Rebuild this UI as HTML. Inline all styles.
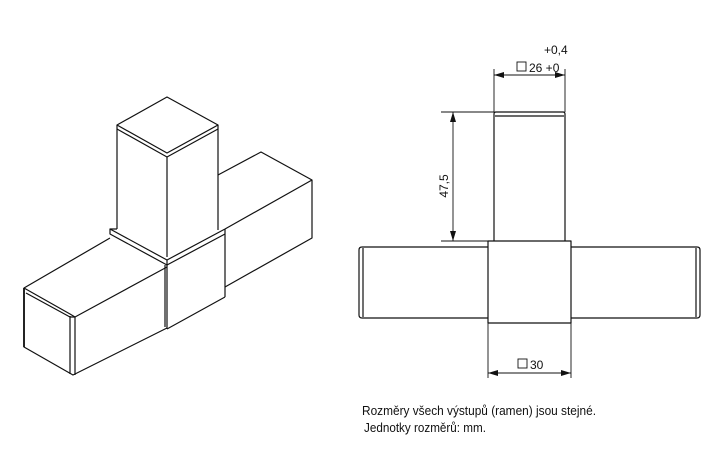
<!DOCTYPE html>
<html><head><meta charset="utf-8"><style>
html,body{margin:0;padding:0;background:#fff}
svg{display:block}
text{font-family:"Liberation Sans Narrow","Liberation Sans",sans-serif;fill:#111}
</style></head><body>
<svg width="724" height="467" viewBox="0 0 724 467" xmlns="http://www.w3.org/2000/svg">
<defs>
<marker id="a" viewBox="0 0 10 6" refX="10" refY="3" markerWidth="10" markerHeight="6" orient="auto-start-reverse" markerUnits="userSpaceOnUse"><path d="M0,0L10,3L0,6z" fill="#111"/></marker>
</defs>
<g fill="none" stroke="#111" stroke-width="1.2" stroke-linejoin="round">
<polyline points="218,175 261,152 312,180 312,238 225,287"/>
<line x1="312" y1="180" x2="225" y2="229"/>
<polygon points="117,125 167,97 218,125 167,153"/>
<polyline points="117,129 167,157 218,129"/>
<line x1="117" y1="125" x2="117" y2="229"/>
<line x1="218" y1="125" x2="218" y2="230"/>
<line x1="167" y1="157" x2="167" y2="257"/>
<polyline points="117,229 110,229 110,234 167,265 225,234"/>
<line x1="110" y1="229" x2="167" y2="260"/>
<line x1="167" y1="260" x2="225" y2="229"/>
<line x1="225" y1="229" x2="225" y2="297"/>
<line x1="167" y1="260" x2="167" y2="329"/>
<line x1="165" y1="265" x2="165" y2="327"/>
<polyline points="167,329 225,297"/>
<polyline points="110,238 24,288 24,347 73,375 167,328"/>
<polyline points="24,288 70,314 75,317 167,267"/>
<polyline points="26,293 70,317 75,317"/>
<line x1="70" y1="316" x2="70" y2="374"/>
<line x1="75" y1="317" x2="75" y2="375"/>
<line x1="24" y1="347" x2="24" y2="288" stroke-width="1.8"/>

<path d="M494,241 V114 Q494,112 496,112 H563 Q565,112 565,114 V241"/>
<line x1="495" y1="116" x2="564" y2="116"/>
<rect x="488" y="241" width="83" height="82"/>
<path d="M488,247 H362 Q359,247 359,250 V315 Q359,318 362,318 H488"/>
<line x1="363" y1="248" x2="363" y2="317"/>
<path d="M571,247 H697 Q700,247 700,250 V315 Q700,318 697,318 H571"/>
<line x1="696" y1="248" x2="696" y2="317"/>
</g>
<g stroke="#111" stroke-width="0.9" fill="none">
<line x1="494" y1="69" x2="494" y2="112"/>
<line x1="565" y1="69" x2="565" y2="112"/>
<line x1="494" y1="75" x2="565" y2="75" marker-start="url(#a)" marker-end="url(#a)"/>
<line x1="441" y1="112" x2="494" y2="112"/>
<line x1="441" y1="241" x2="488" y2="241"/>
<line x1="453" y1="112" x2="453" y2="241" marker-start="url(#a)" marker-end="url(#a)"/>
<line x1="488" y1="323" x2="488" y2="378"/>
<line x1="571" y1="323" x2="571" y2="378"/>
<line x1="488" y1="373" x2="571" y2="373" marker-start="url(#a)" marker-end="url(#a)"/>
<rect x="517" y="62" width="9" height="9"/>
<rect x="518" y="359" width="9" height="9"/>
</g>
<text x="544" y="54" font-size="12">+0,4</text>
<text x="529" y="72" font-size="12">26 +0</text>
<text x="530" y="369" font-size="12">30</text>
<text transform="translate(448,186) rotate(-90)" font-size="12" text-anchor="middle">47,5</text>
<text x="362" y="415" font-size="13" textLength="234" lengthAdjust="spacingAndGlyphs">Rozměry všech výstupů (ramen) jsou stejné.</text>
<text x="364" y="432" font-size="13" textLength="122" lengthAdjust="spacingAndGlyphs">Jednotky rozměrů: mm.</text>
</svg>
</body></html>
